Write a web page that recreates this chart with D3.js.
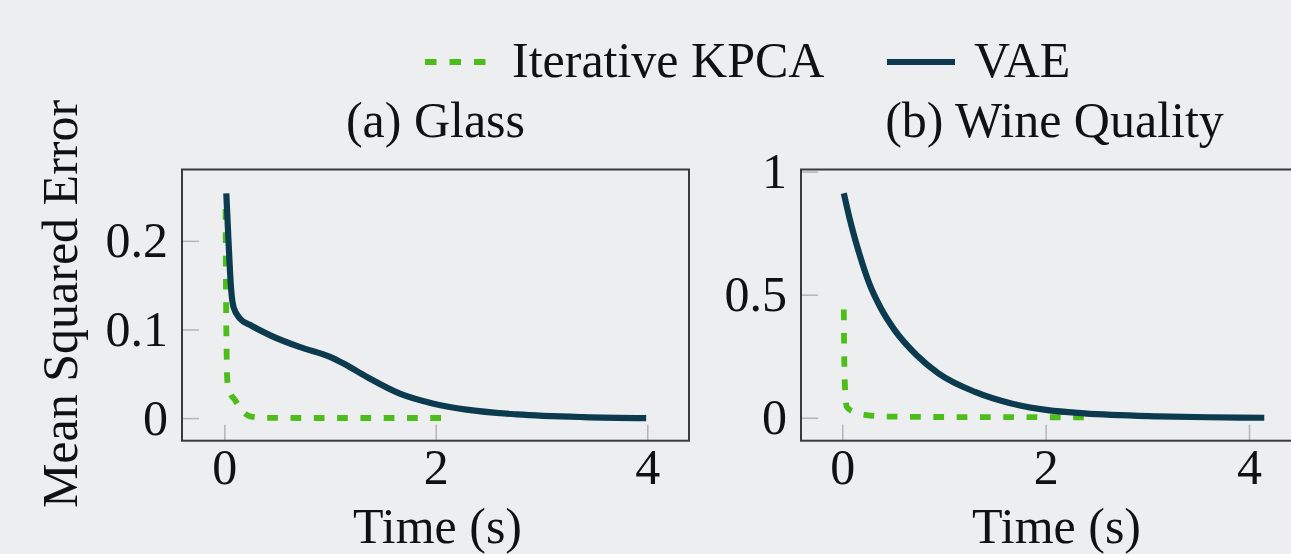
<!DOCTYPE html>
<html>
<head>
<meta charset="utf-8">
<script src="https://cdn.jsdelivr.net/npm/d3@7"></script>
<style>
  html, body { margin: 0; padding: 0; background: #edeef0; }
  svg { display: block; }
  text { font-family: "Liberation Serif", "Times New Roman", serif; fill: #111; }
</style>
</head>
<body>
<svg id="chart" width="1291" height="554"></svg>
<script>
// ---------- data ----------
const seriesNames = ["Iterative KPCA", "VAE"];
const panelTitles = ["(a) Glass", "(b) Wine Quality"];
const xTicks = [0, 2, 4];
const yTicksGlass = [0, 0.1, 0.2];
const yTicksWine = [0, 0.5, 1];
const yTickLabelsGlass = ["0", "0.1", "0.2"];
const yTickLabelsWine = ["0", "0.5", "1"];
const xAxisLabel = "Time (s)";
const yAxisLabel = "Mean Squared Error";

// Glass
const glassKpcaX = [0.012, 0.014, 0.017, 0.022, 0.028, 0.05, 0.104, 0.17, 0.246, 0.39, 1.0, 2.1];
const glassKpcaY = [0.236, 0.19, 0.13, 0.075, 0.043, 0.030, 0.020, 0.008, 0.002, 0.0003, 0.0001, 0.0001];
const glassVaeX = [0.019, 0.041, 0.063, 0.088, 0.151, 0.246, 0.435, 0.718, 1.0, 1.128, 1.35, 1.66, 1.98, 2.29, 2.77, 3.4, 3.99];
const glassVaeY = [0.2536, 0.197, 0.148, 0.125, 0.112, 0.105, 0.0934, 0.080, 0.069, 0.0615, 0.0463, 0.0276, 0.0163, 0.0095, 0.0042, 0.0011, 0.0];

// Wine Quality
const wineKpcaX = [0.015, 0.017, 0.02, 0.025, 0.032, 0.043, 0.11, 0.24, 0.44, 1.0, 2.42];
const wineKpcaY = [0.44, 0.33, 0.22, 0.14, 0.09, 0.045, 0.024, 0.011, 0.005, 0.003, 0.002];
const wineVaeX = [0.015, 0.069, 0.158, 0.266, 0.373, 0.517, 0.732, 0.947, 1.305, 1.663, 2.02, 2.38, 3.1, 3.6, 4.15];
const wineVaeY = [0.912, 0.815, 0.680, 0.545, 0.45, 0.355, 0.254, 0.18, 0.105, 0.058, 0.031, 0.018, 0.006, 0.002, 0.0];

// ---------- style ----------
const colorKpca = "#4dbd1b";
const colorVae = "#0c3a4e";
const fontSize = 50;

const svg = d3.select("#chart");

const panels = [
  { title: panelTitles[0], left: 182, width: 507, xDomain: [-0.4, 4.395], yDomain: [-0.0255, 0.2805],
    yTicks: yTicksGlass, yLabels: yTickLabelsGlass,
    kpca: glassKpcaX.map((x, i) => [x, glassKpcaY[i]]),
    vae: glassVaeX.map((x, i) => [x, glassVaeY[i]]) },
  { title: panelTitles[1], left: 801, width: 507, xDomain: [-0.406, 4.58], yDomain: [-0.0932, 1.0086],
    yTicks: yTicksWine, yLabels: yTickLabelsWine,
    kpca: wineKpcaX.map((x, i) => [x, wineKpcaY[i]]),
    vae: wineVaeX.map((x, i) => [x, wineVaeY[i]]) }
];

const plotTop = 169.5, plotBottom = 440.7;

panels.forEach(p => {
  const x = d3.scaleLinear().domain(p.xDomain).range([p.left, p.left + p.width]);
  const y = d3.scaleLinear().domain(p.yDomain).range([plotBottom, plotTop]);

  const g = svg.append("g");

  // x axis (ticks inside)
  const xa = g.append("g")
    .attr("transform", `translate(0,${plotBottom})`)
    .call(d3.axisBottom(x).tickValues(xTicks).tickFormat(d3.format("d")).tickSize(-16).tickPadding(0));
  xa.select(".domain").remove();
  xa.selectAll(".tick line").attr("stroke", "#b4b4b4").attr("stroke-width", 1.5);
  xa.selectAll(".tick text").attr("dy", null).attr("y", 43.5)
    .style("font-size", fontSize + "px").style("font-family", "Liberation Serif").attr("fill", "#111");

  // y axis (ticks inside)
  const ya = g.append("g")
    .attr("transform", `translate(${p.left},0)`)
    .call(d3.axisLeft(y).tickValues(p.yTicks).tickFormat((d, i) => p.yLabels[i]).tickSize(-17).tickPadding(14));
  ya.select(".domain").remove();
  ya.selectAll(".tick line").attr("stroke", "#b4b4b4").attr("stroke-width", 1.5);
  ya.selectAll(".tick text").attr("dy", "0.32em")
    .style("font-size", fontSize + "px").style("font-family", "Liberation Serif").attr("fill", "#111");

  const line = d3.line().x(d => x(d[0])).y(d => y(d[1])).curve(d3.curveMonotoneX);

  g.append("path").datum(p.kpca).attr("d", line)
    .attr("fill", "none").attr("stroke", colorKpca).attr("stroke-width", 5.8)
    .attr("stroke-dasharray", "10.7,12.6");

  g.append("path").datum(p.vae).attr("d", line)
    .attr("fill", "none").attr("stroke", colorVae).attr("stroke-width", 6.2)
    .attr("stroke-linejoin", "round");

  // frame
  g.append("rect")
    .attr("x", p.left).attr("y", plotTop).attr("width", p.width).attr("height", plotBottom - plotTop)
    .attr("fill", "none").attr("stroke", "#3a3a3a").attr("stroke-width", 2);

  // title
  g.append("text").attr("x", p.left + p.width / 2).attr("y", 137)
    .attr("text-anchor", "middle").style("font-size", fontSize + "px").text(p.title);

  // x label
  g.append("text").attr("x", p.left + p.width / 2 + 2).attr("y", 543)
    .attr("text-anchor", "middle").style("font-size", fontSize + "px").text(xAxisLabel);
});

// y label
svg.append("text")
  .attr("transform", `translate(77,304) rotate(-90)`)
  .attr("text-anchor", "middle").style("font-size", fontSize + "px").text(yAxisLabel);

// legend
const legend = svg.append("g");
legend.append("line").attr("x1", 425).attr("x2", 487).attr("y1", 62).attr("y2", 62)
  .attr("stroke", colorKpca).attr("stroke-width", 5.8).attr("stroke-dasharray", "11.5,13");
legend.append("text").attr("x", 512).attr("y", 77).style("font-size", fontSize + "px").text(seriesNames[0]);
legend.append("line").attr("x1", 887).attr("x2", 955).attr("y1", 62).attr("y2", 62)
  .attr("stroke", colorVae).attr("stroke-width", 6.2);
legend.append("text").attr("x", 974).attr("y", 77).style("font-size", fontSize + "px").text(seriesNames[1]);
</script>
</body>
</html>
